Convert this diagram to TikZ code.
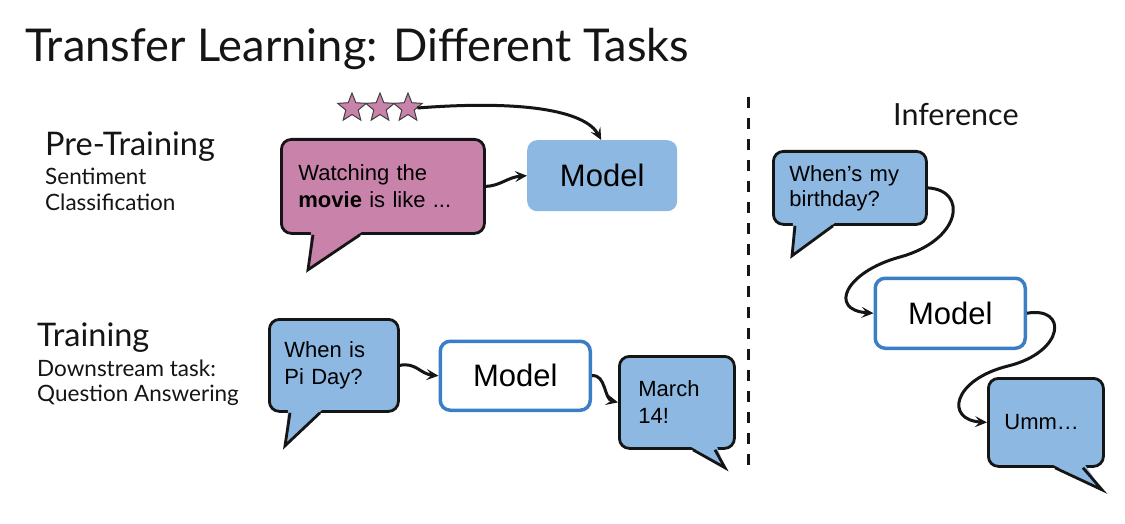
\documentclass[tikz,border=0pt]{standalone}
\usepackage{fontspec}
\setmainfont{Lato}
\newfontfamily\arialf{Liberation Sans}
\usetikzlibrary{calc,arrows.meta,shapes.geometric}
\definecolor{pinkc}{HTML}{C983AA}
\definecolor{bluec}{HTML}{8DB8E2}
\definecolor{blueb}{HTML}{3A7EC6}
\definecolor{inkc}{HTML}{151515}
\newcommand\bubbletail[5]{%
  \fill[#2] ($(#1.south west)+(#3-2,-3)$) -- ($(#1.south west)+(#4)$) -- ($(#1.south west)+(#5+2,-3)$) -- cycle;
  \draw[line width=2.8pt, draw=inkc, line join=miter] ($(#1.south west)+(#3,0)$) -- ($(#1.south west)+(#4)$) -- ($(#1.south west)+(#5,0)$);}
\begin{document}
\begin{tikzpicture}[x=1pt,y=-1pt,
  bubble/.style={draw=inkc, line width=2.8pt, rounded corners=10pt, align=left,
     font=\arialf\fontsize{22}{27}\selectfont, anchor=north west, inner ysep=0pt},
  modelbox/.style={rounded corners=10pt, anchor=north west, inner sep=0pt,
     font=\arialf\fontsize{31}{36}\selectfont, align=center},
  conn/.style={draw=inkc, line width=3pt, -{Stealth[length=12pt,width=11pt,inset=5pt]}},
  heading/.style={anchor=base west, inner sep=0pt, font=\fontsize{32.5}{36}\selectfont, text=inkc},
  sub/.style={anchor=base west, inner sep=0pt, font=\fontsize{22.5}{26}\selectfont, text=inkc},
  starn/.style={star, star points=5, star point ratio=2.3, minimum size=30pt, inner sep=0pt,
     fill=pinkc, draw=black!75, line width=1pt}]
\useasboundingbox (0,0) rectangle (1125,524);
\fill[white] (0,0) rectangle (1125,524);

% title and labels
\node[anchor=base west, inner sep=0pt, font=\fontsize{45.2}{50}\selectfont, text=inkc] (title) at (25,62) {Transfer Learning: Different Tasks};
\node[heading] (pre) at (45,156) {Pre-Training};
\node[sub] (sent) at (45,185) {Sentiment};
\node[sub] (cls) at (45,211) {Classification};
\node[heading] (tr) at (37,346) {Training};
\node[sub] (down) at (37,376) {Downstream task:};
\node[sub] (qa) at (37,401) {Question Answering};
\node[heading, font=\fontsize{30.5}{34}\selectfont] (inf) at (893,126) {Inference};

% divider
\coordinate (d1) at (748,97);
\coordinate (d2) at (748,466);
\draw[inkc, line width=3pt, dash pattern=on 11pt off 10pt] (d1) -- (d2);

% pre-training row
\node[bubble, fill=pinkc, text width=169pt, inner xsep=17pt, minimum height=94pt] (p) at (280,138)
  {Watching the\\\textbf{movie} is like ...};
\bubbletail{p}{pinkc}{33}{28,35}{80}
\node[modelbox, fill=bluec, minimum width=150pt, minimum height=71pt] (m1) at (527,140) {Model};
\node[starn] (s1) at (352,108) {};
\node[starn] (s2) at (380,108) {};
\node[starn] (s3) at (408,108) {};
\draw[conn] (s3.east) .. controls (520,100) and (585,110) .. ($(m1.north)+(-1,0)$);
\draw[conn] (p.east) .. controls (500,186) and (508,177) .. (m1.west);

% training row
\node[bubble, fill=bluec, text width=99pt, inner xsep=15pt, minimum height=92pt] (q1) at (268,318)
  {When is\\Pi Day?};
\bubbletail{q1}{bluec}{22}{17,33}{52}
\node[modelbox, fill=white, draw=blueb, line width=3.5pt, minimum width=150pt, minimum height=69pt] (m2) at (438.5,339.5) {Model};
\node[bubble, fill=bluec, text width=77pt, inner xsep=19pt, minimum height=92pt] (mar) at (618,355)
  {March\\14!};
\bubbletail{mar}{bluec}{75}{107,18}{97}
\draw[conn] (q1.east) .. controls (416,362) and (420,374) .. (m2.west);
\draw[conn] (m2.east) .. controls (606,374) and (604,399) .. (mar.west);

% inference
\node[bubble, fill=bluec, text width=121pt, inner xsep=16pt, minimum height=73pt,
  font=\arialf\fontsize{22}{25}\selectfont] (b1) at (772,150)
  {When’s my\\birthday?};
\bubbletail{b1}{bluec}{23}{20,30}{61}
\node[modelbox, fill=white, draw=blueb, line width=3.5pt, minimum width=150pt, minimum height=70pt] (m3) at (873.5,276.5) {Model};
\node[bubble, fill=bluec, text width=83pt, inner xsep=16pt, minimum height=88pt] (umm) at (987,377)
  {Umm…};
\bubbletail{umm}{bluec}{68}{115,22}{96}
\draw[conn] (b1.east) .. controls (968,190) and (962,240) .. (900,257)
  .. controls (845,272) and (828,310) .. (m3.west);
\draw[conn] (m3.east) .. controls (1068,306) and (1065,352) .. (1008,366)
  .. controls (952,380) and (945,420) .. (umm.west);
\end{tikzpicture}
\end{document}
